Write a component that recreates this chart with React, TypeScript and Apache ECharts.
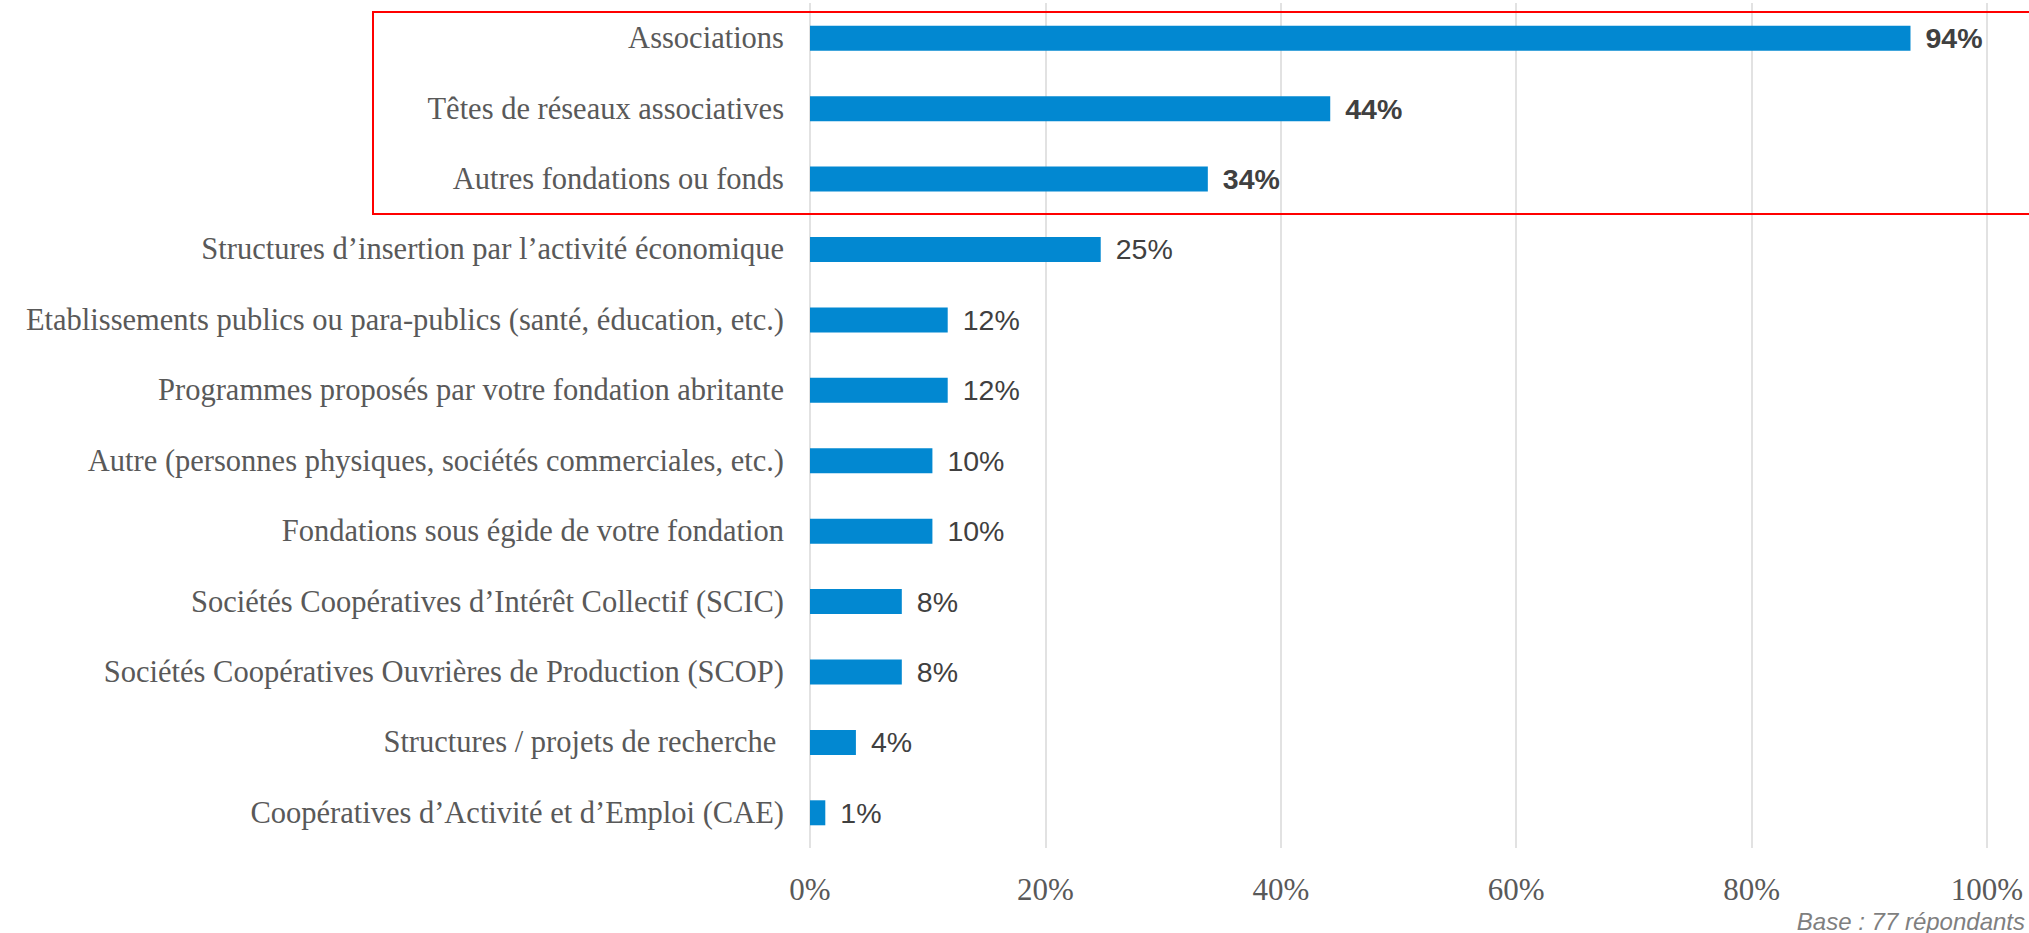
import React, { useEffect, useRef } from "react";
import * as echarts from "echarts";

const categories = [
  "Associations",
  "Têtes de réseaux associatives",
  "Autres fondations ou fonds",
  "Structures d’insertion par l’activité économique",
  "Etablissements publics ou para-publics (santé, éducation, etc.)",
  "Programmes proposés par votre fondation abritante",
  "Autre (personnes physiques, sociétés commerciales, etc.)",
  "Fondations sous égide de votre fondation",
  "Sociétés Coopératives d’Intérêt Collectif (SCIC)",
  "Sociétés Coopératives Ouvrières de Production (SCOP)",
  "Structures / projets de recherche ",
  "Coopératives d’Activité et d’Emploi (CAE)",
];
const values = [93.5, 44.2, 33.8, 24.7, 11.7, 11.7, 10.4, 10.4, 7.8, 7.8, 3.9, 1.3];
const highlighted = [true, true, true, false, false, false, false, false, false, false, false, false];
const xTicks = [0, 20, 40, 60, 80, 100];
const baseNote = "Base : 77 répondants";

export default function App() {
  const ref = useRef<HTMLDivElement>(null);
  useEffect(() => {
    if (!ref.current) return;
    const chart = echarts.init(ref.current, undefined, { renderer: "svg" });
    chart.setOption({
      animation: false,
      grid: { left: 810, right: 42, top: 3, bottom: 85, containLabel: false },
      xAxis: {
        type: "value",
        min: xTicks[0],
        max: xTicks[xTicks.length - 1],
        interval: 20,
        axisLine: { show: false },
        axisTick: { show: false },
        splitLine: { show: true, lineStyle: { color: "#D9D9D9", width: 1.5 } },
        axisLabel: {
          formatter: (v: number) => v + "%",
          fontFamily: "Liberation Serif",
          fontSize: 31,
          color: "#595959",
          margin: 26,
        },
      },
      yAxis: {
        type: "category",
        data: categories,
        inverse: true,
        axisLine: { show: false },
        axisTick: { show: false },
        splitLine: { show: false },
        axisLabel: {
          fontFamily: "Liberation Serif",
          fontSize: 30.5,
          color: "#595959",
          margin: 26,
        },
      },
      series: [
        {
          type: "bar",
          barWidth: 25,
          data: values.map((v, i) => ({
            value: v,
            label: {
              fontWeight: highlighted[i] ? "bold" : "normal",
            },
          })),
          itemStyle: { color: "#0288D1" },
          label: {
            show: true,
            position: "right",
            distance: 15,
            fontFamily: "Liberation Sans",
            fontSize: 28.5,
            color: "#404040",
            formatter: (p: any) => Math.round(p.value) + "%",
          },
        },
      ],
      graphic: [
        {
          type: "rect",
          shape: { x: 373, y: 12, width: 1700, height: 202 },
          style: { fill: "none", stroke: "#FF0000", lineWidth: 2 },
          z: 10,
        },
        {
          type: "text",
          right: 4,
          top: 909,
          style: {
            text: baseNote,
            fontFamily: "Liberation Sans",
            fontStyle: "italic",
            fontSize: 24,
            fill: "#7F7F7F",
          },
        },
      ],
    });
    return () => chart.dispose();
  }, []);
  return (
    <div
      ref={ref}
      style={{ position: "absolute", left: 0, top: 0, width: 2029, height: 933 }}
    />
  );
}
